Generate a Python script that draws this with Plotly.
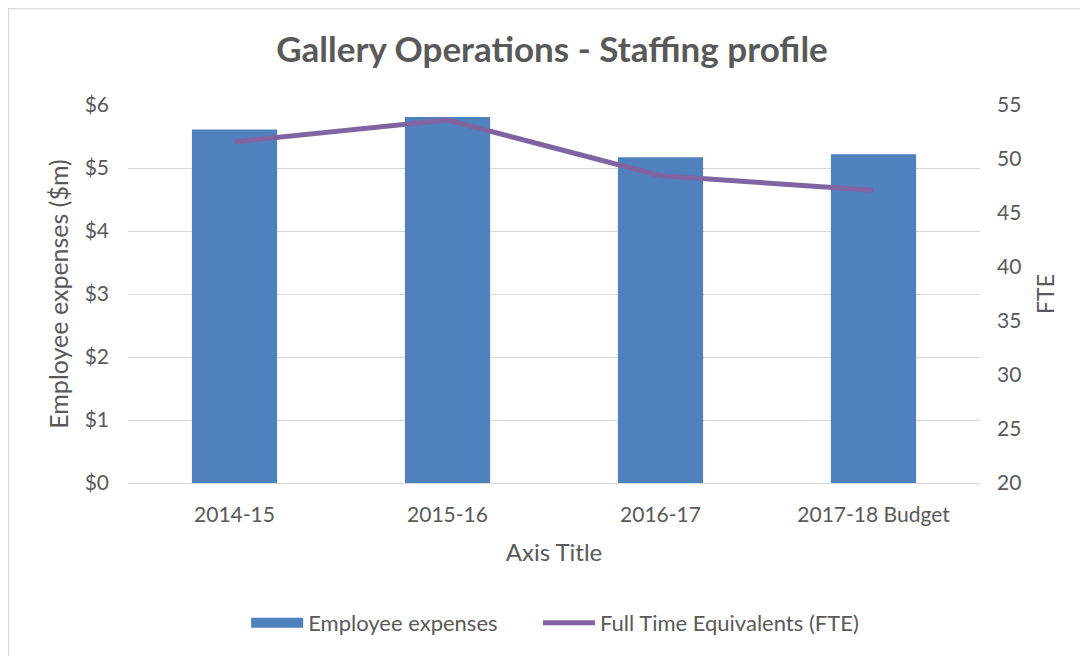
import plotly.graph_objects as go

categories = ["2014-15", "2015-16", "2016-17", "2017-18 Budget"]
expenses = [5.61, 5.81, 5.17, 5.22]
fte = [51.6, 53.6, 48.45, 47.1]
left_ticks = [0, 1, 2, 3, 4, 5, 6]
left_labels = ["$0", "$1", "$2", "$3", "$4", "$5", "$6"]
right_ticks = [20, 25, 30, 35, 40, 45, 50, 55]

FONT = "Lato, Carlito, 'Open Sans', sans-serif"
GREY = "#595959"
BLUE = "#4f81bd"
PURPLE = "#8064a2"

fig = go.Figure()
fig.add_trace(go.Bar(x=categories, y=expenses, name="Employee expenses",
                     marker=dict(color=BLUE, line=dict(width=0)), width=0.4,
                     showlegend=False))
# legend proxy giving a wide rectangular swatch like the reference
fig.add_trace(go.Scatter(x=[None], y=[None], name="Employee expenses", mode="lines",
                         line=dict(color=BLUE, width=14), showlegend=True, legend="legend"))
fig.add_trace(go.Scatter(x=categories, y=fte, name="Full Time Equivalents (FTE)",
                         yaxis="y2", mode="lines", legend="legend2",
                         line=dict(color=PURPLE, width=5)))

legend_common = dict(orientation="h", yanchor="middle", y=-0.37, xanchor="left",
                     font=dict(size=22, color=GREY), itemwidth=52,
                     bgcolor="rgba(0,0,0,0)")

fig.update_layout(
    width=1088, height=656,
    margin=dict(l=120, r=116, t=97, b=181, autoexpand=False),
    paper_bgcolor="white", plot_bgcolor="white",
    font=dict(family=FONT, color=GREY, size=21),
    title=dict(text="<b>Gallery Operations - Staffing profile</b>", x=0.5, xanchor="center",
               y=0.936, yanchor="middle", font=dict(size=35, color=GREY, family=FONT)),
    xaxis=dict(title=dict(text="Axis Title", font=dict(size=24, color=GREY), standoff=18),
               tickfont=dict(size=21, color=GREY), showgrid=False, automargin=False,
               showline=True, linecolor="#d9d9d9", linewidth=1, ticks="",
               ticklabelstandoff=13),
    yaxis=dict(title=dict(text="Employee expenses ($m)", font=dict(size=25, color=GREY), standoff=8),
               range=[0, 6], tickvals=left_ticks, ticktext=left_labels, automargin=False,
               tickfont=dict(size=21, color=GREY), gridcolor="#d9d9d9", gridwidth=1,
               zeroline=False, showline=False, ticks="", ticklen=0, ticklabelstandoff=18),
    yaxis2=dict(title=dict(text="FTE", font=dict(size=23, color=GREY), standoff=17),
                overlaying="y", side="right", range=[20, 55], tickvals=right_ticks,
                tickfont=dict(size=21, color=GREY), showgrid=False, zeroline=False,
                showline=False, ticks="", automargin=False, ticklabelstandoff=16),
    legend=dict(x=0.1387, **legend_common),
    legend2=dict(x=0.4812, **legend_common),
    shapes=[dict(type="rect", xref="paper", yref="paper", x0=-0.1403, x1=1.2, y0=-0.6, y1=1.2553,
                 line=dict(color="#d9d9d9", width=1.5), fillcolor="rgba(0,0,0,0)", layer="below")],
)

fig.write_html("out.html")
